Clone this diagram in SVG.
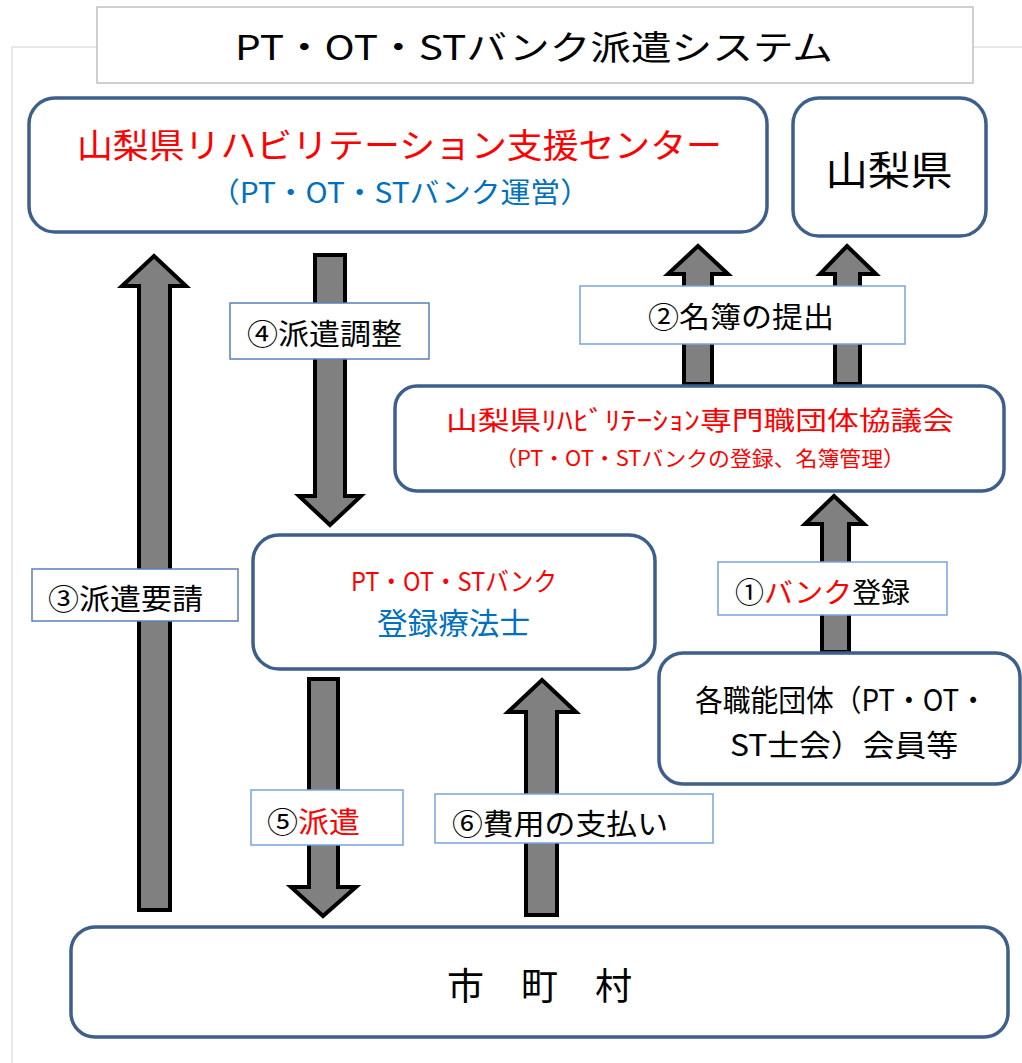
<svg xmlns="http://www.w3.org/2000/svg" width="1022" height="1063" viewBox="0 0 1022 1063">
<style>
text{font-family:"Noto Sans CJK JP","Noto Sans",sans-serif;}
.node{fill:#fff;stroke:#3e5f8c;stroke-width:3.5;}
.arrow{fill:#808080;stroke:#000;stroke-width:4;stroke-linejoin:miter;}
.lbl{fill:#fff;stroke:#5a80b8;stroke-width:1.5;}
.lbl2{fill:#fff;stroke:#7aa2dc;stroke-width:1.5;}
.k{fill:#000;}
.r{fill:#ff0000;}
.b{fill:#0070c0;}
</style>
<g id="frame">
<polyline points="12,1063 12,47 97,47" fill="none" stroke="#e2e2e2" stroke-width="1.5"/>
<line x1="973" y1="47" x2="1022" y2="47" stroke="#e2e2e2" stroke-width="1.5"/>
</g>
<g id="title">
<rect x="97" y="7" width="876" height="76" fill="#fff" stroke="#c0c0c0" stroke-width="1.5"/>
<text x="235" y="60" font-size="34" class="k" textLength="598" lengthAdjust="spacingAndGlyphs">PT・OT・STバンク派遣システム</text>
</g>
<g id="connectors">
<!-- ③ up arrow -->
<polygon class="arrow" points="154,256 186,286 170,286 170,910 139,910 139,286 122,286"/>
<!-- ④ down arrow -->
<polygon class="arrow" points="315,255 345,255 345,496 361,496 330,525 299,496 315,496"/>
<!-- ⑤ down arrow -->
<polygon class="arrow" points="309,679 338,679 338,887 356,887 323,916 291,887 309,887"/>
<!-- ⑥ up arrow -->
<polygon class="arrow" points="542,680 576,712 557,712 557,915 526,915 526,712 508,712"/>
<!-- ② up arrows -->
<polygon class="arrow" points="698,246 728,274 712,274 712,384 684,384 684,274 668,274"/>
<polygon class="arrow" points="847,246 876,274 860,274 860,384 835,384 835,274 820,274"/>
<!-- ① up arrow -->
<polygon class="arrow" points="834,496 864,524 849,524 849,652 822,652 822,524 805,524"/>
<!-- labels -->
<rect class="lbl" x="32" y="569" width="206" height="52"/>
<text x="48" y="610" font-size="29" class="k" textLength="155" lengthAdjust="spacingAndGlyphs">③派遣要請</text>
<rect class="lbl" x="230" y="303" width="199" height="56"/>
<text x="247" y="345" font-size="29" class="k" textLength="155" lengthAdjust="spacingAndGlyphs">④派遣調整</text>
<rect class="lbl2" x="580" y="286" width="325" height="58"/>
<text x="648" y="328" font-size="29" class="k" textLength="186" lengthAdjust="spacingAndGlyphs">②名簿の提出</text>
<rect class="lbl2" x="718" y="562" width="229" height="53"/>
<text x="735" y="603" font-size="28" textLength="175" lengthAdjust="spacingAndGlyphs"><tspan class="k">①</tspan><tspan class="r">バンク</tspan><tspan class="k">登録</tspan></text>
<rect class="lbl2" x="251" y="790" width="152" height="55"/>
<text x="267" y="833" font-size="29" textLength="93" lengthAdjust="spacingAndGlyphs"><tspan class="k">⑤</tspan><tspan class="r">派遣</tspan></text>
<rect class="lbl2" x="435" y="794" width="278" height="49"/>
<text x="452" y="835" font-size="29" class="k" textLength="216" lengthAdjust="spacingAndGlyphs">⑥費用の支払い</text>
</g>
<g id="center">
<rect class="node" x="29" y="98" width="738" height="134" rx="26"/>
<text x="77" y="158" font-size="34" class="r" textLength="645" lengthAdjust="spacingAndGlyphs">山梨県リハビリテーション支援センター</text>
<text x="210" y="203" font-size="28" class="b" textLength="380" lengthAdjust="spacingAndGlyphs">（PT・OT・STバンク運営）</text>
</g>
<g id="pref">
<rect class="node" x="793" y="98" width="193" height="138" rx="26"/>
<text x="889" y="185" font-size="40" class="k" text-anchor="middle" textLength="127" lengthAdjust="spacingAndGlyphs">山梨県</text>
</g>
<g id="council">
<rect class="node" x="395" y="386" width="609" height="105" rx="22"/>
<text x="446" y="430" font-size="26" class="r" textLength="508" lengthAdjust="spacingAndGlyphs">山梨県ﾘﾊﾋﾞﾘﾃｰｼｮﾝ専門職団体協議会</text>
<text x="495" y="466" font-size="21" class="r" textLength="410" lengthAdjust="spacingAndGlyphs">（PT・OT・STバンクの登録、名簿管理）</text>
</g>
<g id="bank">
<rect class="node" x="253" y="535" width="402" height="134" rx="26"/>
<text x="351" y="591" font-size="26" class="r" textLength="206" lengthAdjust="spacingAndGlyphs">PT・OT・STバンク</text>
<text x="377" y="634" font-size="30" class="b" textLength="153" lengthAdjust="spacingAndGlyphs">登録療法士</text>
</g>
<g id="members">
<rect class="node" x="659" y="653" width="361" height="131" rx="24"/>
<text x="695" y="711" font-size="30" class="k" textLength="292" lengthAdjust="spacingAndGlyphs">各職能団体（PT・OT・</text>
<text x="730" y="756" font-size="30" class="k" textLength="228" lengthAdjust="spacingAndGlyphs">ST士会）会員等</text>
</g>
<g id="municipality">
<rect class="node" x="71" y="927" width="937" height="110" rx="24"/>
<text x="447" y="1000" font-size="37" class="k" textLength="185" lengthAdjust="spacingAndGlyphs">市　町　村</text>
</g>
</svg>
